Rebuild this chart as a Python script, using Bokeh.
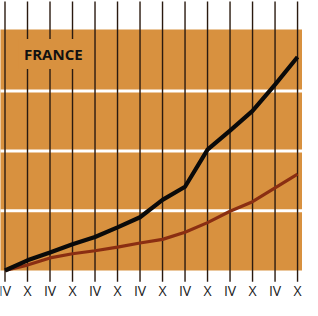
from bokeh.plotting import figure
from bokeh.models import Range1d, Label, ColumnDataSource
from bokeh.embed import file_html
from bokeh.resources import INLINE
from bokeh.core.properties import value

# data
periods = ["IV", "X", "IV", "X", "IV", "X", "IV", "X", "IV", "X", "IV", "X", "IV", "X"]
black_series = [0.0, 0.17, 0.30, 0.44, 0.56, 0.72, 0.89, 1.18, 1.40, 2.02, 2.34, 2.67, 3.11, 3.57]
brown_series = [0.0, 0.09, 0.21, 0.28, 0.33, 0.39, 0.46, 0.52, 0.64, 0.80, 0.99, 1.15, 1.38, 1.61]
grid_levels = [1, 2, 3]
band_top = 4.03
title_text = "FRANCE"

xs = list(range(len(periods)))

W, H = 302, 300
p = figure(width=W, height=H, output_backend="svg", toolbar_location=None,
           x_range=Range1d(-0.2, 13.22), y_range=Range1d(-0.502, 4.515),
           min_border=0, min_border_left=0, min_border_right=0,
           min_border_top=0, min_border_bottom=0)
p.axis.visible = False
p.grid.visible = False
p.outline_line_color = None
p.background_fill_color = "white"
p.border_fill_color = "white"

orange = "#D8913F"
# orange band
p.quad(left=-1, right=14, bottom=0, top=band_top, fill_color=orange, line_color=None)
# white grid lines
p.segment(x0=[-1] * len(grid_levels), x1=[14] * len(grid_levels), y0=grid_levels, y1=grid_levels,
          line_color="white", line_width=3)
# vertical lines
p.segment(x0=xs, x1=xs, y0=[-0.19] * len(xs), y1=[4.5] * len(xs), line_color="#2a1a10", line_width=1.4)

# title with orange background (breaks vertical lines)
lab = Label(x=0.62, y=3.62, text=title_text, text_font="Open Sans", text_font_style="bold",
            text_font_size="15px", text_color="#111111", text_baseline="middle",
            background_fill_color=orange, background_fill_alpha=1.0, padding=5)
p.add_layout(lab)

# series
p.line(xs, brown_series, line_color="#8A2E12", line_width=3.2, line_join="round")
p.line(xs, black_series, line_color="#0a0a0a", line_width=4.2, line_join="round")

# period labels
src = ColumnDataSource(dict(x=xs, y=[-0.335] * len(xs), t=periods))
p.text(x="x", y="y", text="t", source=src, text_align="center", text_baseline="middle",
       text_font=value("Open Sans"), text_font_size="14px", text_color="#222222")

html = file_html(p, INLINE)
open("out.html", "w").write(html)
